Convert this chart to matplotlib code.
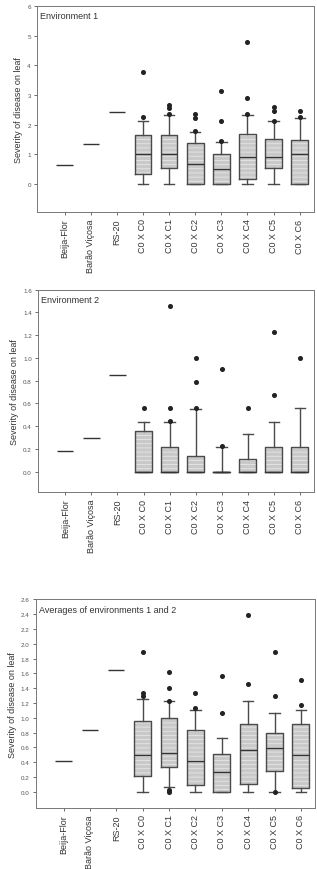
import numpy as np
import matplotlib
matplotlib.use("Agg")
import matplotlib.pyplot as plt

plt.rcParams['font.family'] = ['Liberation Sans', 'DejaVu Sans']
plt.rcParams['hatch.linewidth'] = 0.5

# ============================================================
# DATA
# ============================================================

checks  = ['Beija-Flor', 'Barão Viçosa', 'RS-20']
crosses = ['C0 X C0', 'C0 X C1', 'C0 X C2', 'C0 X C3', 'C0 X C4', 'C0 X C5', 'C0 X C6']

# Environment 1
env1_checks = [0.65, 1.36, 2.43]
env1_q1     = [0.35, 0.54, 0.00, 0.00, 0.16, 0.54, 0.00]
env1_med    = [1.01, 1.01, 0.67, 0.52, 0.91, 0.91, 1.01]
env1_q3     = [1.64, 1.64, 1.39, 1.01, 1.70, 1.53, 1.49]
env1_lo     = [0.00, 0.00, 0.00, 0.00, 0.00, 0.00, 0.00]
env1_hi     = [2.11, 2.32, 1.75, 1.42, 2.34, 2.11, 2.24]
env1_fliers = [[2.26, 3.78], [2.36, 2.55, 2.65], [1.78, 2.24, 2.35],
               [1.44, 2.11, 3.12], [2.35, 2.90, 4.79], [2.12, 2.47, 2.58],
               [2.26, 2.46]]

# Environment 2
env2_checks = [0.18, 0.30, 0.85]
env2_q1     = [0.00, 0.00, 0.00, 0.00, 0.00, 0.00, 0.00]
env2_med    = [0.00, 0.00, 0.00, 0.00, 0.00, 0.00, 0.00]
env2_q3     = [0.36, 0.22, 0.14, 0.00, 0.11, 0.22, 0.22]
env2_lo     = [0.00, 0.00, 0.00, 0.00, 0.00, 0.00, 0.00]
env2_hi     = [0.44, 0.44, 0.55, 0.22, 0.33, 0.44, 0.56]
env2_fliers = [[0.56], [0.45, 0.56, 1.46], [0.56, 0.79, 1.00],
               [0.23, 0.90], [0.56], [0.67, 1.23], [1.00]]

# Averages of environments 1 and 2
avg_checks = [0.41, 0.84, 1.64]
avg_q1     = [0.22, 0.33, 0.09, 0.00, 0.11, 0.28, 0.055]
avg_med    = [0.50, 0.52, 0.41, 0.27, 0.56, 0.59, 0.50]
avg_q3     = [0.96, 1.00, 0.84, 0.51, 0.91, 0.79, 0.91]
avg_lo     = [0.00, 0.06, 0.00, 0.00, 0.00, 0.00, 0.00]
avg_hi     = [1.26, 1.22, 1.10, 0.73, 1.22, 1.06, 1.11]
avg_fliers = [[1.29, 1.34, 1.89], [0.00, 0.03, 1.22, 1.40, 1.62], [1.13, 1.34],
              [1.06, 1.56], [1.45, 2.39], [0.00, 1.29, 1.89], [1.17, 1.51]]

labels = checks + crosses

# ============================================================
# PLOT
# ============================================================

fig = plt.figure(figsize=(3.17, 8.70), dpi=100)

panels = [
    ([0.117, 0.755, 0.874, 0.237], 'Environment 1',
     env1_checks, env1_q1, env1_med, env1_q3, env1_lo, env1_hi, env1_fliers,
     (-0.95, 6.0), np.arange(0, 6.01, 1), '%d'),
    ([0.120, 0.433, 0.871, 0.233], 'Environment 2',
     env2_checks, env2_q1, env2_med, env2_q3, env2_lo, env2_hi, env2_fliers,
     (-0.18, 1.6), np.arange(0, 1.61, 0.2), '%.1f'),
    ([0.113, 0.070, 0.882, 0.240], 'Averages of environments 1 and 2',
     avg_checks, avg_q1, avg_med, avg_q3, avg_lo, avg_hi, avg_fliers,
     (-0.22, 2.6), np.arange(0, 2.61, 0.2), '%.1f'),
]

box_pos = np.arange(len(checks) + 1, len(labels) + 1)
chk_pos = np.arange(1, len(checks) + 1)
edge = '#4a4a4a'

for rect, title, chk, q1, med, q3, lo, hi, fl, ylim, yt, fmt in panels:
    ax = fig.add_axes(rect)

    # checks: single values drawn as short lines
    ax.hlines(chk, chk_pos - 0.31, chk_pos + 0.31, color='#333333', lw=1.0)

    # hatched fill under boxes
    ax.bar(box_pos, np.array(q3) - np.array(q1), bottom=q1, width=0.64,
           color='#c9c9c9', hatch='----', edgecolor='#ececec', linewidth=0, zorder=1)

    stats = []
    for i in range(len(crosses)):
        stats.append(dict(med=med[i], q1=q1[i], q3=q3[i],
                          whislo=lo[i], whishi=hi[i], fliers=fl[i]))
    ax.bxp(stats, positions=box_pos, widths=0.64, capwidths=0.4,
           manage_ticks=False,
           boxprops=dict(color=edge, lw=1.0),
           medianprops=dict(color='#333333', lw=1.0),
           whiskerprops=dict(color=edge, lw=1.0),
           capprops=dict(color=edge, lw=1.0),
           flierprops=dict(marker='o', markerfacecolor='#222222',
                           markeredgecolor='#222222', markersize=2.6),
           zorder=2)

    ax.set_xlim(-0.05, 10.55)
    ax.set_ylim(*ylim)
    ax.set_yticks(yt)
    ax.set_yticklabels([fmt % v for v in yt], fontsize=4.5, color='#555555')
    ax.set_xticks(np.arange(1, len(labels) + 1))
    ax.set_xticklabels(labels, rotation=90, fontsize=6.5, color='#333333')
    ax.tick_params(axis='both', length=2.5, width=0.6, color='#555555', pad=2)
    ax.set_ylabel('Severity of disease on leaf', fontsize=6.5, color='#333333', labelpad=3)
    ax.text(0.012, 0.975, title, transform=ax.transAxes, ha='left', va='top',
            fontsize=6.5, color='#333333')
    for s in ax.spines.values():
        s.set_color('#777777')
        s.set_linewidth(0.7)

plt.savefig('out.png', dpi=100)
